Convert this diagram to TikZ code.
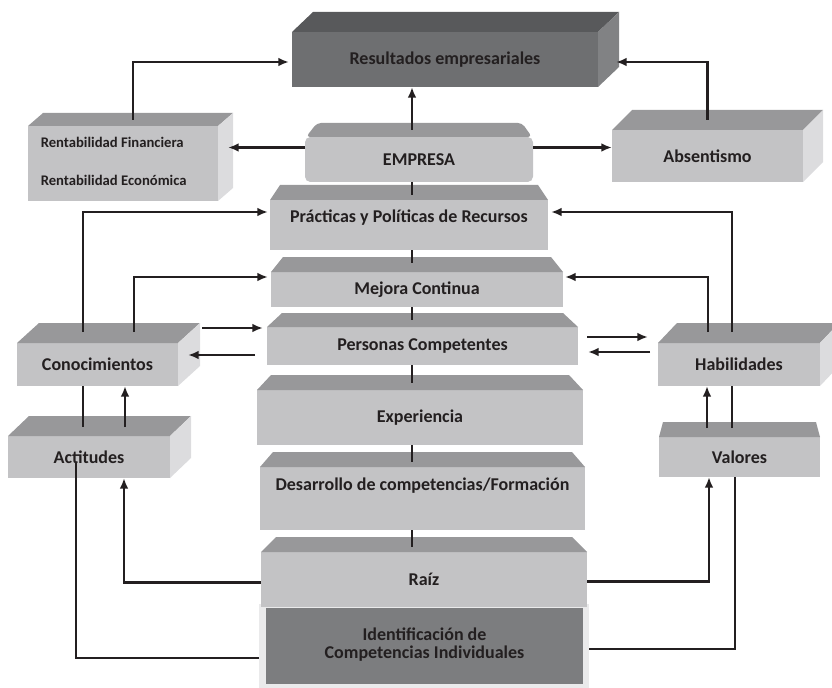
\documentclass[tikz,border=0pt]{standalone}
\usepackage{fontspec}
\setmainfont{Carlito}
\usetikzlibrary{arrows.meta,calc}
\definecolor{frontc}{HTML}{C3C3C5}
\definecolor{topc}{HTML}{98989A}
\definecolor{sidec}{HTML}{DCDCDE}
\definecolor{dfront}{HTML}{6E6F71}
\definecolor{dtop}{HTML}{58595B}
\definecolor{dside}{HTML}{818284}
\definecolor{idfill}{HTML}{7C7D7F}
\definecolor{idframe}{HTML}{EAEAEB}
\definecolor{txt}{HTML}{231F20}
\newcommand\cubefaces[5]{%
  \fill[#4] (#1.north west) -- ++(#2,#3) -- ($(#1.north east)+(#2,#3)$) -- (#1.north east) -- cycle;
  \fill[#5] (#1.north east) -- ++(#2,#3) -- ($(#1.south east)+(#2,#3)$) -- (#1.south east) -- cycle;}
\newcommand\trapface[3]{%
  \fill[topc] (#1.north west) -- ++(#2,-#3) -- ($(#1.north east)+(-#2,-#3)$) -- (#1.north east) -- cycle;}
\begin{document}
\begin{tikzpicture}[x=0.75pt,y=-0.75pt,
  face/.style={fill=frontc, inner sep=0pt, outer sep=0pt, text=txt,
    font=\fontsize{13.5pt}{16pt}\selectfont\bfseries},
  wh/.style 2 args={minimum width=#1*0.75pt, minimum height=#2*0.75pt},
  arr/.style={line width=1.6pt, draw=txt, -{Latex[length=8pt,width=6.5pt]}},
  ln/.style={line width=1.3pt, draw=txt}]
\useasboundingbox (0,0) rectangle (832,688);

% front faces
\node[face, fill=dfront, wh={306}{55}] (res) at (445,59.5) {Resultados empresariales};
\node[face, wh={190}{75}, font=\fontsize{11pt}{13pt}\selectfont\bfseries] (rent) at (123,163.5)
  {\begin{tabular}{@{}l@{}}Rentabilidad Financiera\\[15.5pt]Rentabilidad Económica\end{tabular}\kern14pt};
\node[face, wh={191}{52}] (abs) at (707.5,156) {Absentismo};
\node[face, rounded corners=4pt, wh={228}{45}] (emp) at (419,159.5) {EMPRESA};
\node[face, wh={278}{50}, text depth=13.5pt] (prac) at (409,225) {Prácticas y Políticas de Recursos};
\node[face, wh={292}{35}] (mej) at (417,289.5) {Mejora Continua};
\node[face, wh={311}{38}] (pers) at (422.5,346) {Personas Competentes};
\node[face, wh={326}{55}] (exp) at (420,417.5) {Experiencia};
\node[face, wh={325}{63}, text depth=22pt] (des) at (422.5,498.5) {Desarrollo de competencias/Formación};
\node[fill=idframe, inner sep=0pt, outer sep=0pt, wh={330}{84}] (idf) at (424,646) {};
\node[face, wh={326}{55}] (raiz) at (424,579.5) {Raíz};
\node[face, fill=idfill, wh={317}{76}, font=\fontsize{13.5pt}{13.5pt}\selectfont\bfseries] (ident) at (424.5,646)
  {\begin{tabular}{@{}c@{}}Identificación de\\Competencias Individuales\end{tabular}};
\node[face, wh={161}{43}] (con) at (97.5,364.5) {Conocimientos};
\node[face, wh={162}{42}] (act) at (89,457) {Actitudes};
\node[face, wh={162}{43}] (hab) at (739,364.5) {Habilidades};
\node[face, wh={161}{40}] (val) at (739.5,457) {Valores};

% top and side faces
\cubefaces{res}{21}{-20}{dtop}{dside}
\cubefaces{rent}{15}{-13}{topc}{sidec}
\cubefaces{abs}{20}{-20}{topc}{sidec}
\cubefaces{con}{22}{-20}{topc}{sidec}
\cubefaces{act}{21}{-20}{topc}{sidec}
\cubefaces{hab}{19}{-20}{topc}{sidec}
\fill[topc, rounded corners=3pt] ($(emp.north west)+(1,0)$) -- ++(11,-14) -- ($(emp.north east)+(-11,-14)$) -- ($(emp.north east)+(-1,0)$) -- cycle;
\trapface{prac}{10}{15}
\trapface{mej}{12}{15}
\trapface{pers}{15}{14}
\trapface{exp}{14}{15}
\trapface{des}{13}{15}
\trapface{raiz}{15}{15}
\trapface{val}{4}{15}

% central spine
\coordinate (cx) at (412,0);
\draw[arr] ($(emp.north -| cx)+(0,-7)$) -- (res.south -| cx);
\draw[ln] (emp.south -| cx) -- ($(prac.north -| cx)+(0,-5)$);
\draw[ln] (prac.south -| cx) -- ($(mej.north -| cx)+(0,-9)$);
\draw[ln] (mej.south -| cx) -- ($(pers.north -| cx)+(0,-7)$);
\draw[ln] (pers.south -| cx) -- ($(exp.north -| cx)+(0,-7)$);
\draw[ln] (exp.south -| cx) -- ($(des.north -| cx)+(0,-5)$);
\draw[ln] (des.south -| cx) -- ($(raiz.north -| cx)+(0,-5)$);

% top
\draw[arr] ($(rent.north)+(10,-6)$) |- ($(res.west)+(-3,2.5)$);
\draw[arr] ($(abs.north)+(0,-10)$) |- ($(res.east)+(18,2.5)$);
\coordinate (rentR) at ($(rent.east)+(10,0)$);
\draw[arr] ($(emp.west)+(0,-12)$) coordinate (e1) -- (e1 -| rentR);
\draw[arr] ($(emp.east)+(0,-12)$) coordinate (e2) -- (e2 -| abs.west);

% left
\draw[arr] ($(con.north)+(-14.5,-11)$) |- ($(prac.west)+(-2,-13)$);
\draw[arr] ($(con.north)+(36.5,-11)$) |- ($(mej.west)+(-3,-12.5)$);
\coordinate (persL) at ($(pers.west)+(-4,0)$);
\draw[arr] ($(con.north east)+(24,-15)$) coordinate (c3) -- (c3 -| persL);
\coordinate (conR) at ($(con.east)+(10,0)$);
\draw[arr] ($(pers.west)+(-12,9)$) coordinate (c4) -- (c4 -| conR);
\draw[ln] ($(con.south)+(-14.5,0)$) -- ($(act.north)+(-6,-9)$);
\draw[arr] ($(act.north)+(36,-9)$) -- ($(con.south)+(27.5,0)$);

% right
\draw[arr] ($(hab.north)+(-31,-11)$) |- ($(mej.east)+(2,-12.5)$);
\draw[arr] ($(hab.north)+(-7,-11)$) |- ($(prac.east)+(3,-13)$);
\coordinate (habL) at ($(hab.west)+(-10,0)$);
\draw[arr] ($(pers.east)+(9,-9)$) coordinate (h3) -- (h3 -| habL);
\coordinate (persR) at ($(pers.east)+(10,0)$);
\draw[arr] ($(hab.west)+(-8,-12.5)$) coordinate (h4) -- (h4 -| persR);
\draw[arr] ($(val.north)+(-32.5,-9)$) -- ($(hab.south)+(-32,0)$);
\draw[ln] ($(hab.south)+(-7,0)$) -- ($(val.north)+(-7.5,-9)$);

% bottom
\draw[arr] ($(raiz.west)+(0,3)$) -| ($(act.south)+(35,0)$);
\draw[arr] ($(raiz.east)+(0,2)$) -| ($(val.south)+(-30.5,0)$);
\draw[ln] ($(idf.west)+(0,12)$) -| ($(act.south)+(-13,-15)$);
\draw[ln] ($(idf.east)+(0,3)$) -| ($(val.south)+(-4.5,0)$);
\end{tikzpicture}
\end{document}
